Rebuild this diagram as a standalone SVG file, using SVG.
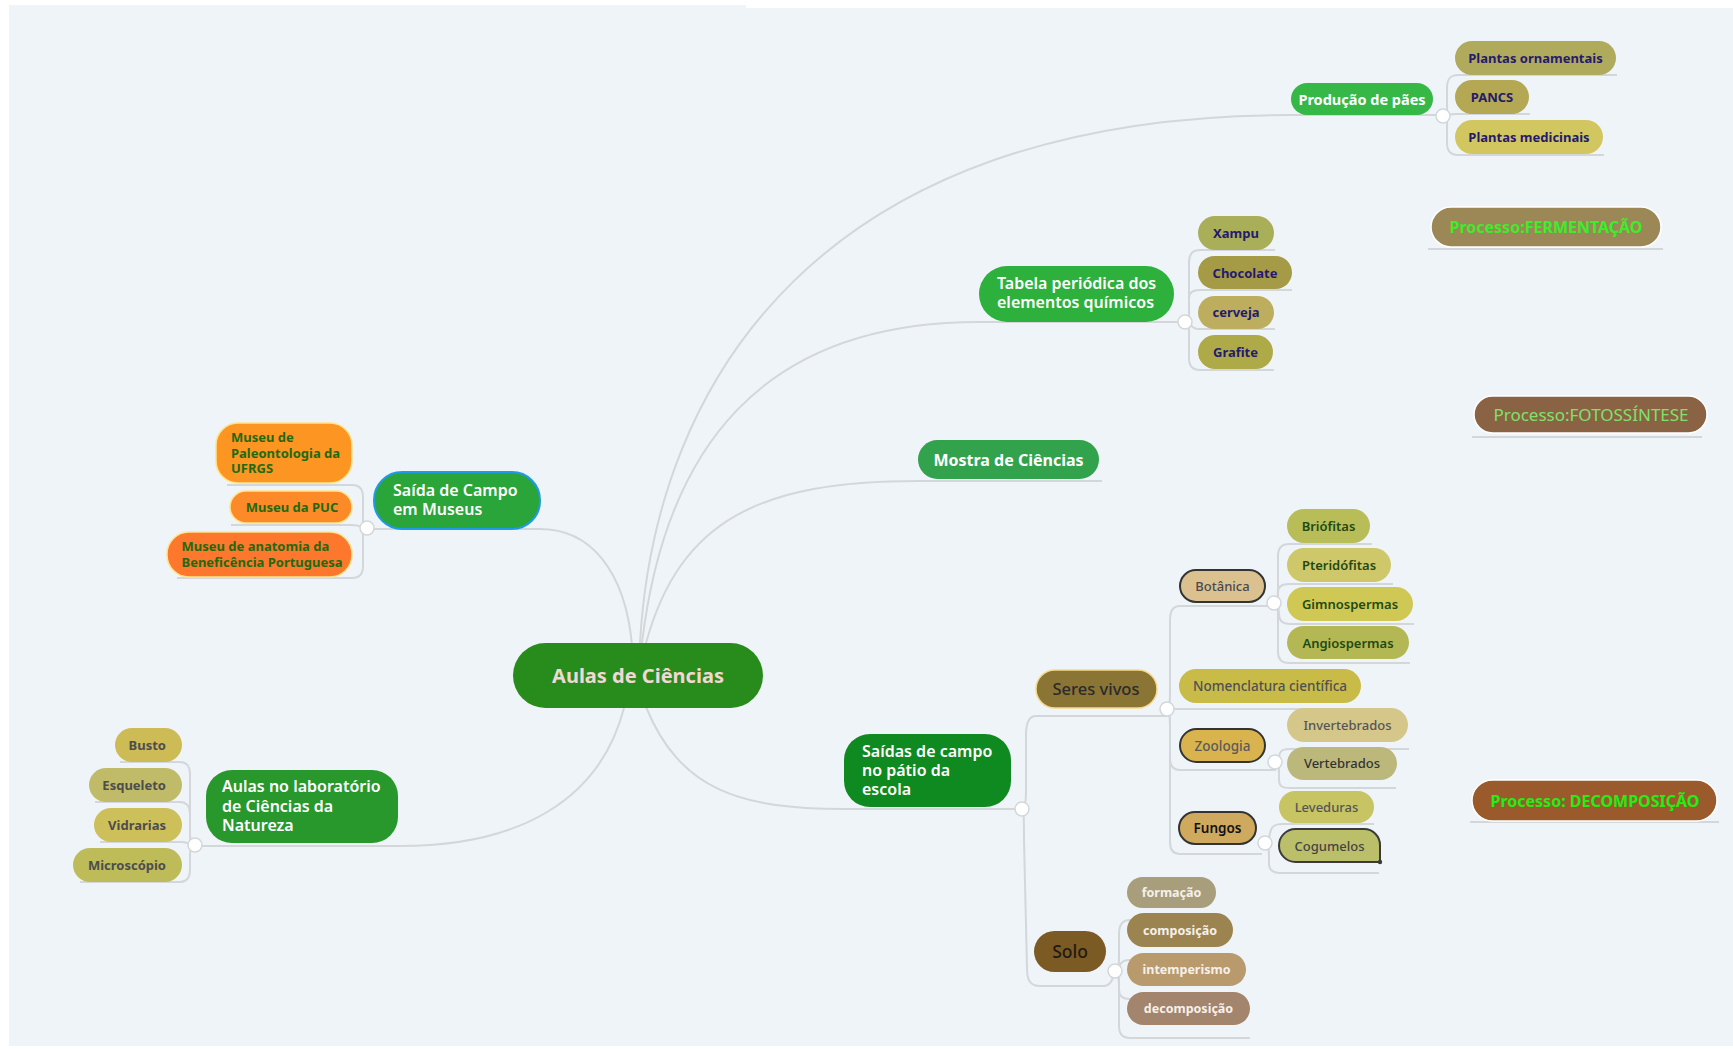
<svg xmlns="http://www.w3.org/2000/svg" width="1733" height="1049" viewBox="0 0 1733 1049">
<style>
text{font-family:"Noto Sans","Liberation Sans",sans-serif}
.c{text-anchor:middle}
.e{text-anchor:end}
.b{font-weight:700}
.s{font-weight:600}
.m{font-weight:500}
.big{font-size:16px;font-weight:600;fill:#ffffff}
.sm{font-size:13px}
.con path{fill:none;stroke:#d3d7da;stroke-width:2}
.dot{fill:#ffffff;stroke:#d3d7da;stroke-width:1.5}
.pv{fill:#241a6e;font-weight:700;font-size:13px}
.ms{fill:#1d6a12;font-weight:700;font-size:13px}
.lab{fill:#4d4d4d;font-weight:700;font-size:13px}
.bot{fill:#1f4a12;font-weight:600;font-size:13px}
.solo{fill:#f5f0ea;font-weight:700;font-size:12.5px}
.orng{stroke:#ffe48a;stroke-width:1.5}
.dark{stroke:#333333;stroke-width:2}
.proc{stroke:#ffffff;stroke-width:1.5}
</style>
<rect width="1733" height="1049" fill="#ffffff"/>
<path d="M9,5 H746 V8 H1733 V1046 H9 Z" fill="#eff4f8"/>

<g id="connectors" class="con">
  <path d="M640,643 C655,380 820,115 1291,115 H1443"/>
  <path d="M642,643 C665,450 760,322 979,322 H1185"/>
  <path d="M646,643 C680,520 760,481 918,481 H1102"/>
  <path d="M646,707 C680,790 740,809 844,809 H1022"/>
  <path d="M632,645 C625,570 590,529 540,529 H367"/>
  <path d="M624,708 C600,800 520,846 400,846 H195"/>
  <path d="M1443,116 C1448,116 1447,110 1447,100 L1447,88 C1447,79 1450,75 1458,75 H1617"/>
  <path d="M1443,116 C1447,116 1449,114 1456,114 H1530"/>
  <path d="M1443,116 C1448,116 1447,122 1447,130 V143 C1447,151 1450,155 1458,155 H1604"/>
  <path d="M1185,322 C1190,322 1189,316 1189,306 V262 C1189,254 1192,250 1200,250 H1275"/>
  <path d="M1185,322 C1190,322 1189,316 1189,306 V298 C1189,293 1192,290 1200,290 H1292"/>
  <path d="M1185,322 C1190,322 1191,329 1198,329 H1275"/>
  <path d="M1185,322 C1190,322 1189,328 1189,338 V358 C1189,366 1192,370 1200,370 H1274"/>
  <path d="M367,528 C362,528 363,522 363,512 V497 C363,489 360,485 352,485 H227"/>
  <path d="M367,528 C363,528 360,525 352,525 H231"/>
  <path d="M367,528 C362,528 363,534 363,544 V566 C363,574 360,578 352,578 H177"/>
  <path d="M120,762 H180 C186,762 190,766 190,774 V835 C190,842 192,845 195,845"/>
  <path d="M95,802 H180 C186,802 190,806 190,814 V835 C190,842 192,845 195,845"/>
  <path d="M100,842 H182 C188,842 190,845 195,845"/>
  <path d="M80,882 H180 C186,882 190,878 190,870 V855 C190,848 192,845 195,845"/>
  <path d="M1022,809 C1025,809 1026,800 1026,790 V735 C1026,722 1029,716 1036,716 H1167"/>
  <path d="M1022,809 C1024,809 1024,820 1024,840 L1027,968 C1027,980 1030,986 1040,986 H1104 C1110,986 1113,980 1115,971"/>
  <path d="M1167,709 C1170,709 1170,700 1170,690 V620 C1170,611 1173,606 1180,606 H1274"/>
  <path d="M1167,709 H1361"/>
  <path d="M1167,709 C1170,709 1170,718 1170,728 V758 C1170,766 1173,770 1180,770 H1276"/>
  <path d="M1167,709 C1170,709 1170,718 1170,728 V842 C1170,850 1173,854 1180,854 H1262"/>
  <path d="M1274,603 C1278,603 1278,596 1278,586 V556 C1278,548 1281,544 1289,544 H1372"/>
  <path d="M1274,603 C1278,603 1278,596 1278,592 C1278,587 1281,584 1289,584 H1393"/>
  <path d="M1274,603 C1278,603 1279,610 1279,614 C1279,620 1282,624 1290,624 H1414"/>
  <path d="M1274,603 C1278,603 1278,610 1278,620 V652 C1278,659 1281,663 1289,663 H1410"/>
  <path d="M1275,762 C1279,762 1279,756 1280,753 C1281,750 1284,749 1290,749 H1409"/>
  <path d="M1275,762 C1279,762 1279,768 1279,774 V780 C1279,786 1282,788 1290,788 H1396"/>
  <path d="M1265,843 C1269,843 1269,838 1270,833 C1271,827 1274,824 1282,824 H1374"/>
  <path d="M1265,843 C1269,843 1269,850 1269,858 V864 C1269,870 1273,873 1282,873 H1379"/>
  <path d="M1115,971 C1119,971 1119,964 1119,956 V934 C1119,925 1122,920 1130,920 H1216"/>
  <path d="M1115,971 C1119,971 1119,966 1120,965 C1121,962 1124,960 1130,960 H1233"/>
  <path d="M1115,971 C1119,971 1119,978 1119,986 V990 C1119,996 1122,999 1130,999 H1246"/>
  <path d="M1115,971 C1119,971 1119,978 1119,988 V1026 C1119,1034 1122,1038 1130,1038 H1250"/>
  <path d="M1428,249 H1663"/>
  <path d="M1472,437 H1702"/>
  <path d="M1470,822 H1719"/>
</g>

<g id="n-central">
  <rect x="513" y="643" width="250" height="65" rx="32.5" fill="#288c1c"/>
  <text x="638" y="683" class="c b" font-size="20" fill="#f2d8d4">Aulas de Ciências</text>
</g>

<g id="n-producao">
  <rect x="1291" y="83" width="142" height="32" rx="16" fill="#35b845"/>
  <text x="1362" y="104.5" class="c b" font-size="14.5" fill="#ffffff">Produção de pães</text>
  <circle cx="1443" cy="116" r="7" class="dot"/>
</g>
<g id="n-ornamentais">
  <rect x="1455" y="41" width="161" height="34" rx="17" fill="#b0aa5c"/>
  <text x="1535.5" y="63" class="c pv">Plantas ornamentais</text>
</g>
<g id="n-pancs">
  <rect x="1455" y="80" width="74" height="34" rx="17" fill="#b4a854"/>
  <text x="1492" y="102" class="c pv">PANCS</text>
</g>
<g id="n-medicinais">
  <rect x="1455" y="120" width="148" height="34" rx="17" fill="#d2c660"/>
  <text x="1529" y="142" class="c pv">Plantas medicinais</text>
</g>

<g id="n-tabela">
  <rect x="979" y="266" width="195" height="56" rx="28" fill="#2eb03c"/>
  <text x="997" y="289" class="big">Tabela periódica dos</text>
  <text x="997" y="308" class="big">elementos químicos</text>
  <circle cx="1185" cy="322" r="7" class="dot"/>
</g>
<g id="n-xampu">
  <rect x="1198" y="216" width="76" height="34" rx="17" fill="#a9ae58"/>
  <text x="1236" y="238" class="c pv">Xampu</text>
</g>
<g id="n-chocolate">
  <rect x="1198" y="256" width="94" height="33" rx="16.5" fill="#a59a45"/>
  <text x="1245" y="278" class="c pv">Chocolate</text>
</g>
<g id="n-cerveja">
  <rect x="1198" y="296" width="76" height="33" rx="16.5" fill="#bcae5e"/>
  <text x="1236" y="317" class="c pv">cerveja</text>
</g>
<g id="n-grafite">
  <rect x="1198" y="335" width="75" height="34" rx="17" fill="#aeaa48"/>
  <text x="1235.5" y="357" class="c pv">Grafite</text>
</g>

<g id="n-fermentacao">
  <rect x="1431" y="207" width="230" height="40" rx="20" fill="#9c8757" class="proc"/>
  <text x="1546" y="233" class="c b" font-size="16" fill="#3bee2a">Processo:FERMENTAÇÃO</text>
</g>
<g id="n-fotossintese">
  <rect x="1474" y="396" width="233" height="37" rx="18.5" fill="#8a6244" class="proc"/>
  <text x="1591" y="420.5" class="c" font-size="17" fill="#7ee26a">Processo:FOTOSSÍNTESE</text>
</g>
<g id="n-decomposicao-proc">
  <rect x="1472" y="780" width="245" height="41" rx="20.5" fill="#9a5a2b" class="proc"/>
  <text x="1595" y="806.5" class="c b" font-size="16" fill="#22ee14">Processo: DECOMPOSIÇÃO</text>
</g>

<g id="n-mostra">
  <rect x="918" y="440" width="181" height="39" rx="19.5" fill="#33a24d"/>
  <text x="1008.5" y="465.5" class="c b" font-size="16" fill="#ffffff">Mostra de Ciências</text>
</g>

<g id="n-museus">
  <rect x="374" y="472" width="166" height="57" rx="28" fill="#2aa53a" stroke="#1e9be8" stroke-width="2"/>
  <text x="393" y="496" class="big">Saída de Campo</text>
  <text x="393" y="515" class="big">em Museus</text>
  <circle cx="367" cy="528" r="7" class="dot"/>
</g>
<g id="n-paleontologia">
  <rect x="216" y="423" width="136" height="60" rx="22" fill="#fd9522" class="orng"/>
  <text x="231" y="442" class="ms">Museu de</text>
  <text x="231" y="457.5" class="ms">Paleontologia da</text>
  <text x="231" y="473" class="ms">UFRGS</text>
</g>
<g id="n-puc">
  <rect x="230" y="491" width="122" height="32" rx="16" fill="#fd8a28" class="orng"/>
  <text x="292" y="512" class="c ms">Museu da PUC</text>
</g>
<g id="n-anatomia">
  <rect x="167" y="532" width="185" height="45" rx="22" fill="#fd782c" class="orng"/>
  <text x="181.5" y="550.5" class="ms">Museu de anatomia da</text>
  <text x="181.5" y="567" class="ms">Beneficência Portuguesa</text>
</g>

<g id="n-laboratorio">
  <rect x="206" y="770" width="192" height="73" rx="26" fill="#28982c"/>
  <text x="222" y="792" class="big">Aulas no laboratório</text>
  <text x="222" y="811.5" class="big">de Ciências da</text>
  <text x="222" y="830.5" class="big">Natureza</text>
  <circle cx="195" cy="845" r="7" class="dot"/>
</g>
<g id="n-busto">
  <rect x="115" y="728" width="67" height="34" rx="17" fill="#cdbb56"/>
  <text x="166" y="750" class="e lab">Busto</text>
</g>
<g id="n-esqueleto">
  <rect x="89" y="768" width="93" height="34" rx="17" fill="#c0bb68"/>
  <text x="166" y="790" class="e lab">Esqueleto</text>
</g>
<g id="n-vidrarias">
  <rect x="94" y="808" width="88" height="34" rx="17" fill="#cdbf5a"/>
  <text x="166" y="830" class="e lab">Vidrarias</text>
</g>
<g id="n-microscopio">
  <rect x="73" y="848" width="109" height="34" rx="17" fill="#bdbc58"/>
  <text x="166" y="870" class="e lab">Microscópio</text>
</g>

<g id="n-saidas">
  <rect x="844" y="734" width="167" height="73" rx="26" fill="#0f8a20"/>
  <text x="862" y="756.5" class="big">Saídas de campo</text>
  <text x="862" y="776" class="big">no pátio da</text>
  <text x="862" y="795" class="big">escola</text>
  <circle cx="1022" cy="809" r="7" class="dot"/>
</g>

<g id="n-seres">
  <rect x="1036" y="670" width="121" height="38" rx="19" fill="#8b7535" stroke="#f5d98a" stroke-width="1.5"/>
  <text x="1096" y="695" class="c m" font-size="16.5" fill="#2a2a2a">Seres vivos</text>
  <circle cx="1167" cy="709" r="7" class="dot"/>
</g>
<g id="n-botanica">
  <rect x="1180" y="570" width="85" height="32" rx="16" fill="#dcc190" class="dark"/>
  <text x="1222.5" y="591" class="c m" font-size="13" fill="#4a4a4a">Botânica</text>
  <circle cx="1274" cy="603" r="7" class="dot"/>
</g>
<g id="n-briofitas">
  <rect x="1287" y="509" width="83" height="34" rx="17" fill="#b8bd58"/>
  <text x="1328.5" y="531" class="c bot">Briófitas</text>
</g>
<g id="n-pteridofitas">
  <rect x="1287" y="548" width="104" height="34" rx="17" fill="#cfc86a"/>
  <text x="1339" y="570" class="c bot">Pteridófitas</text>
</g>
<g id="n-gimnospermas">
  <rect x="1287" y="587" width="126" height="34" rx="17" fill="#d0c855"/>
  <text x="1350" y="609" class="c bot">Gimnospermas</text>
</g>
<g id="n-angiospermas">
  <rect x="1287" y="626" width="122" height="33" rx="16.5" fill="#b4b854"/>
  <text x="1348" y="647.5" class="c bot">Angiospermas</text>
</g>
<g id="n-nomenclatura">
  <rect x="1179" y="669" width="182" height="34" rx="17" fill="#c8bb48"/>
  <text x="1270" y="690.5" class="c m" font-size="13.5" fill="#505050">Nomenclatura científica</text>
</g>
<g id="n-zoologia">
  <rect x="1180" y="729" width="85" height="33" rx="16.5" fill="#d9b44e" class="dark"/>
  <text x="1222.5" y="750.5" class="c m" font-size="13.5" fill="#5a5a5a">Zoologia</text>
  <circle cx="1275" cy="762" r="7" class="dot"/>
</g>
<g id="n-invertebrados">
  <rect x="1287" y="708" width="121" height="34" rx="17" fill="#d5c68a"/>
  <text x="1347.5" y="729.5" class="c m" font-size="13" fill="#555555">Invertebrados</text>
</g>
<g id="n-vertebrados">
  <rect x="1287" y="747" width="110" height="33" rx="16.5" fill="#bcb87c"/>
  <text x="1342" y="768" class="c m" font-size="13" fill="#333333">Vertebrados</text>
</g>
<g id="n-fungos">
  <rect x="1179" y="812" width="77" height="32" rx="16" fill="#cfa95e" class="dark"/>
  <text x="1217.5" y="833" class="c s" font-size="13.5" fill="#111111">Fungos</text>
  <circle cx="1265" cy="843" r="7" class="dot"/>
</g>
<g id="n-leveduras">
  <rect x="1279" y="791" width="95" height="32" rx="16" fill="#c6c463"/>
  <text x="1326.5" y="811.5" class="c m" font-size="13" fill="#555555">Leveduras</text>
</g>
<g id="n-cogumelos">
  <path d="M1295.5,829 H1364 A16,16 0 0 1 1380,845 V862 H1295.5 A16.5,16.5 0 0 1 1295.5,829 Z" fill="#bcbf6a" stroke="#3a3a3a" stroke-width="2"/>
  <circle cx="1380" cy="862" r="2.2" fill="#3a3a3a"/>
  <text x="1329.5" y="850.5" class="c m" font-size="13" fill="#444444">Cogumelos</text>
</g>

<g id="n-solo">
  <rect x="1034" y="931" width="72" height="41" rx="20.5" fill="#7c5a24"/>
  <text x="1070" y="958" class="c m" font-size="17.5" fill="#1e1a14">Solo</text>
  <circle cx="1115" cy="971" r="7" class="dot"/>
</g>
<g id="n-formacao">
  <rect x="1127" y="877" width="89" height="31" rx="15.5" fill="#a89e7c"/>
  <text x="1171.5" y="897" class="c solo">formação</text>
</g>
<g id="n-composicao">
  <rect x="1127" y="913" width="106" height="34" rx="17" fill="#9c8450"/>
  <text x="1180" y="934.5" class="c solo">composição</text>
</g>
<g id="n-intemperismo">
  <rect x="1127" y="953" width="119" height="33" rx="16.5" fill="#b89a6c"/>
  <text x="1186.5" y="973.5" class="c solo">intemperismo</text>
</g>
<g id="n-decomposicao">
  <rect x="1127" y="992" width="123" height="33" rx="16.5" fill="#a3846c"/>
  <text x="1188.5" y="1012.5" class="c solo">decomposição</text>
</g>
</svg>
